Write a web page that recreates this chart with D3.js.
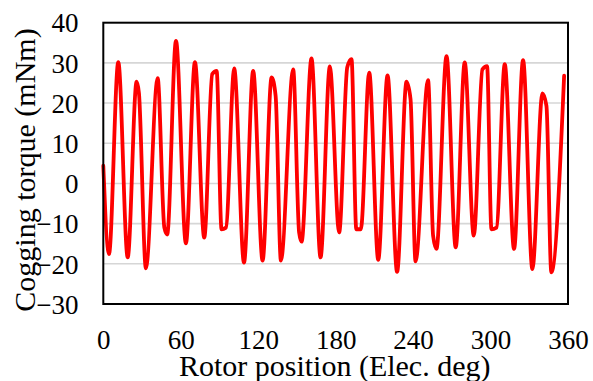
<!DOCTYPE html>
<html><head><meta charset="utf-8">
<script src="https://cdn.jsdelivr.net/npm/d3@7"></script>
<style>
html,body{margin:0;padding:0;background:#fff;}
svg{display:block;}
</style></head>
<body><svg id="chart" width="593" height="381"></svg>
<script>
// Rotor position (electrical degrees) of key points
const positions = [0,4.4,11.6,18.9,25.8,27.6,33,42.1,47.3,49.5,56.3,64,71,78.2,84.4,87.8,91.6,95,101.4,109,116.1,123.4,130.4,133.5,137.6,147.1,151.7,153.6,161.3,168.3,175.5,182.7,189,192.3,196,199.5,206,213,220.2,227.6,234.9,238,241.9,251.6,255.5,258.1,265.9,273,280,287,293.7,297.3,300.7,304.6,311,318.2,325.2,332.4,340.2,343.3,347.1,357];
// Cogging torque (mNm) at those positions
const torque = [4.4,-17.6,30.2,-18.4,25.3,22.5,-21.1,26.2,-11.0,-12.7,35.5,-14.9,30.2,-13.5,27.2,28.0,-11.4,-11.0,28.6,-19.7,28.0,-19.2,26.4,21.8,-19.2,28.4,-12.2,-14.5,31.1,-18.4,29.1,-12.2,28.9,30.9,-11.4,-11.4,27.6,-19.0,26.9,-22.0,25.3,21.0,-19.4,25.7,-13.0,-16.3,31.7,-15.9,30.1,-13.0,28.4,29.2,-11.4,-11.0,29.7,-16.3,30.7,-21.3,22.4,19.3,-22.1,26.8];
const xTicks = [0,60,120,180,240,300,360];
const yTicks = [-30,-20,-10,0,10,20,30,40];
const xTitle = "Rotor position (Elec. deg)";
const yTitle = "Cogging torque (mNm)";

const svg = d3.select("#chart");
const FONT = "Liberation Serif";
const L = 103.3, R = 568, T = 22.7, B = 304;
const x = d3.scaleLinear().domain([0,360]).range([L,R]);
const y = d3.scaleLinear().domain([-30,40]).range([B,T]);

// gridlines
svg.append("g").selectAll("line").data(yTicks.filter(d=>d>-30 && d<40)).join("line")
  .attr("x1",L).attr("x2",R).attr("y1",d=>y(d)).attr("y2",d=>y(d))
  .attr("stroke","#d6d6d6").attr("stroke-width",1.6);

// line
const pts = positions.map((p,i)=>({p, v: torque[i]}));
svg.append("path").datum(pts)
  .attr("fill","none").attr("stroke","#ff0000").attr("stroke-width",3.8)
  .attr("stroke-linejoin","round").attr("stroke-linecap","round")
  .attr("d", d3.line().x(d=>x(d.p)).y(d=>y(d.v)).curve(d3.curveMonotoneX));

// border
svg.append("rect").attr("x",L).attr("y",T).attr("width",R-L).attr("height",B-T)
  .attr("fill","none").attr("stroke","#000").attr("stroke-width",2);

// axes (labels only)
const xAxis = d3.axisBottom(x).tickValues(xTicks).tickSize(0).tickPadding(0).tickFormat(d3.format("d"));
const gx = svg.append("g").attr("transform",`translate(0,${B})`).call(xAxis);
gx.select(".domain").remove();
gx.selectAll("text").attr("dy",null).attr("y",45).attr("fill","#000")
  .style("font-family",FONT).style("font-size","27px");

const yAxis = d3.axisLeft(y).tickValues(yTicks).tickSize(0).tickPadding(0).tickFormat(d3.format("d"));
const gy = svg.append("g").attr("transform",`translate(78.5,0)`).call(yAxis);
gy.select(".domain").remove();
gy.selectAll("text").attr("dy","0.34em").attr("x",0).attr("fill","#000")
  .style("font-family",FONT).style("font-size","27px");

svg.append("text").attr("x",334.7).attr("y",376).attr("text-anchor","middle")
  .style("font-family",FONT).style("font-size","30px").text(xTitle);
svg.append("text").attr("transform",`translate(35,170) rotate(-90)`)
  .attr("text-anchor","middle").style("font-family",FONT).style("font-size","30px").text(yTitle);
</script></body></html>
